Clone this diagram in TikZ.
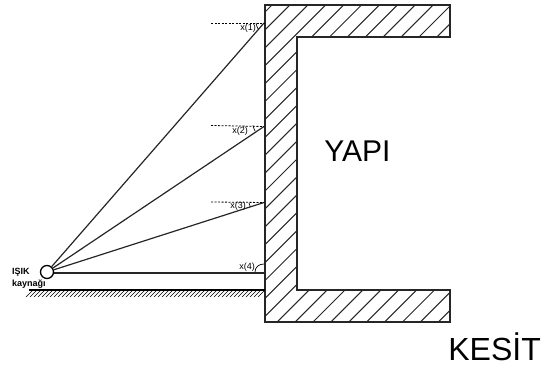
\documentclass[tikz,border=0pt]{standalone}
\usepackage{fontspec}
\setmainfont{Liberation Sans}
\tikzset{
  duvar/.style={line width=1.4pt, black!85},
  taralama/.style={line width=1pt, black!85},
  isin/.style={line width=1.2pt, black!85},
  yatay/.style={line width=0.8pt, dash pattern=on 2pt off 1.5pt},
  aci/.style={line width=0.7pt},
  olcu/.style={font=\fontsize{9}{9}\selectfont, inner sep=0pt}
}
\begin{document}
\begin{tikzpicture}[x=1pt, y=-1pt]
      \useasboundingbox (0, 0) rectangle (543, 371);
      \begin{scope}
        \clip (265, 5) -- (450, 5) -- (450, 37) -- (297, 37) -- (297, 290) -- (450, 290) -- (450, 322) -- (265, 322) -- cycle;
        \foreach \k [evaluate=\k as \c using 277+17.9*\k] in {0,...,27}
          \draw [taralama] (\c, 0) -- (\c-460, 460);
      \end{scope}
      \draw [duvar] (265, 5) -- (450, 5) -- (450, 37) -- (297, 37) -- (297, 290) -- (450, 290) -- (450, 322) -- (265, 322) -- cycle;
      \draw [line width=1.2pt] (29, 290) -- (265, 290);
      \foreach \g in {33,37,...,265}
        \draw [line width=0.7pt] (\g, 290) -- (\g-7, 297);
      \node [circle, draw, line width=1.3pt, fill=white, minimum size=13pt, inner sep=0pt] (kaynak) at (47, 272) {};
      \coordinate (u1) at (264, 23);
      \coordinate (u2) at (264, 126.5);
      \coordinate (u3) at (264, 202.5);
      \coordinate (u4) at (264, 273);
      \coordinate (y1) at (211, 23);
      \coordinate (y2) at (211, 125.5);
      \coordinate (y3) at (211, 202);
      \draw [isin] (kaynak) -- (u1);
      \draw [isin] (kaynak) -- (u2);
      \draw [isin] (kaynak) -- (u3);
      \draw [isin] (kaynak.east |- u4) -- (u4);
      \draw [yatay] (y1) -- (u1);
      \draw [yatay] (y2) -- (u2);
      \draw [yatay] (y3) -- (u3);
      \draw [aci] (256, 23) .. controls (257, 26) and (257, 28) .. (258.5, 29.5);
      \draw [aci] (253, 125.5) .. controls (254, 128) and (254, 130) .. (255, 131);
      \draw [aci] (249, 203) .. controls (250, 205) and (250, 206) .. (250, 207);
      \draw [aci] (255, 272) .. controls (255, 267) and (259, 264) .. (264, 264);
      \node [olcu] (x1) at (248, 28) {x(1)};
      \node [olcu] (x2) at (240, 131) {x(2)};
      \node [olcu] (x3) at (238, 206) {x(3)};
      \node [olcu] (x4) at (247, 267) {x(4)};
      \node [font=\fontsize{9}{9}\selectfont\bfseries, inner sep=0pt, anchor=west] (isik) at (12, 272) {IŞIK};
      \node [font=\fontsize{9}{9}\selectfont\bfseries, inner sep=0pt, anchor=west] (kaynagi) at (12, 284) {kaynağı};
      \node [font=\fontsize{30}{30}\selectfont, inner sep=0pt] (yapi) at (357.5, 151) {YAPI};
      \node [font=\fontsize{32}{32}\selectfont, inner sep=0pt, anchor=east] (kesit) at (541, 347) {KESİT};
    \end{tikzpicture}
\end{document}
